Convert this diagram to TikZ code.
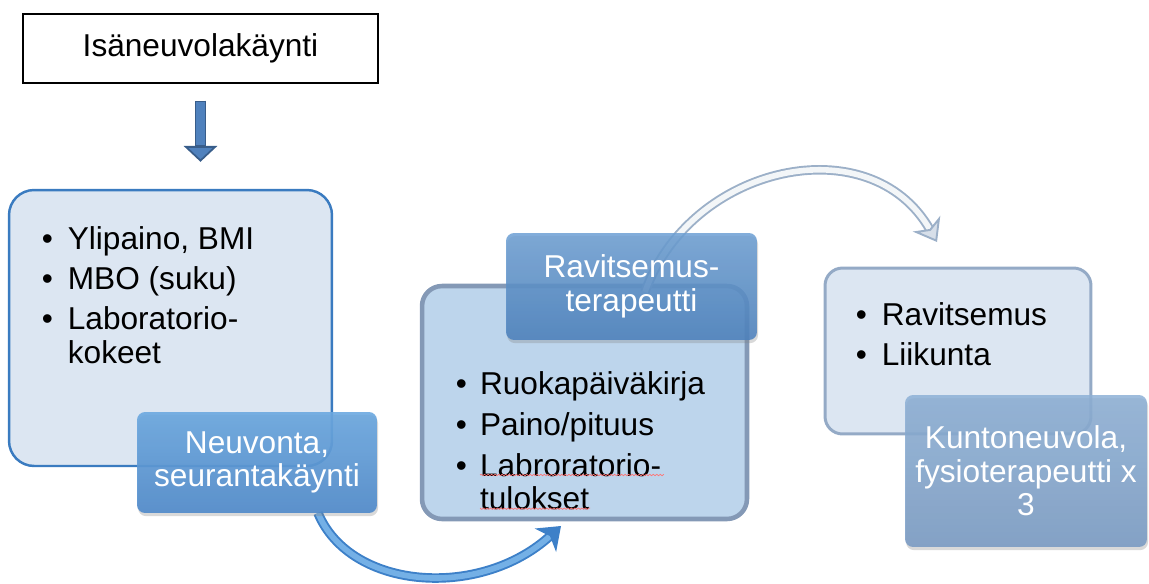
\documentclass[tikz,border=0pt]{standalone}
\usepackage{fontspec}
\setmainfont{Liberation Sans}
\usetikzlibrary{arrows.meta,shadows,decorations.pathmorphing}
\definecolor{paleblue}{HTML}{DCE6F2}
\definecolor{midpale}{HTML}{BDD5EC}
\definecolor{edgeblue}{HTML}{3A7BC0}
\definecolor{edgegray}{HTML}{8499B6}
\definecolor{edgelight}{HTML}{94AAC6}
\definecolor{arrowblue}{HTML}{4F81BD}
\definecolor{arrowdark}{HTML}{385D8A}
\definecolor{badgetop}{HTML}{6BA8E0}
\definecolor{badgebot}{HTML}{4E89CA}
\definecolor{dietop}{HTML}{6C9FD3}
\definecolor{diebot}{HTML}{4A80BD}
\definecolor{fittop}{HTML}{8DB0D6}
\definecolor{fitbot}{HTML}{7598C2}
\definecolor{arcblue}{HTML}{3D80C8}
\definecolor{arclight}{HTML}{74B0E6}
\definecolor{arcsilver}{HTML}{9CB0C8}

\begin{document}
\begin{tikzpicture}[x=0.02cm,y=0.02cm,font=\fontsize{18}{19}\selectfont,
  plain/.style={draw=black,line width=0.8pt,fill=white,minimum width=7.1cm,minimum height=1.38cm},
  card/.style={rounded corners=#1,inner sep=0pt},
  badge/.style={rounded corners=0.16cm,text=white,align=center,inner sep=2pt,
    drop shadow={shadow xshift=0.6pt,shadow yshift=-1.8pt,opacity=0.3}},
  bullets/.style={anchor=base west,inner sep=0pt,align=left},
  bluearc/.style={draw=arcblue,double=arclight,double distance=3.2pt,line width=1.1pt,
    -{Stealth[length=12pt,width=18pt,inset=3.5pt,fill=arcblue]}},
  silverarc/.style={draw=arcsilver,double=white!88!arcsilver,double distance=3.2pt,line width=1.1pt,
    -{Stealth[length=12pt,width=18pt,inset=3.5pt,fill=white!60!arcsilver]}}]

\useasboundingbox (0,0) rectangle (1149,583);

\node[plain](visit) at (200.5,534.5){Isäneuvolakäynti};

% first step
\node[card=0.5cm,draw=edgeblue,line width=1.4pt,fill=paleblue,minimum width=6.46cm,minimum height=5.52cm](check) at (170.5,255){};
\node[bullets](checklist) at (41.5,334){\begin{tabular}[t]{@{}l@{\hspace{8.5pt}}l@{}}
  \textbullet & Ylipaino, BMI\\[4pt]
  \textbullet & MBO (suku)\\[4pt]
  \textbullet & Laboratorio-\\
              & kokeet
\end{tabular}};

\draw[draw=arrowdark,line width=6.8pt,shorten <=0.34cm,shorten >=0.54cm,
  -{Triangle[length=9pt,width=19pt,fill=arrowblue,line width=1pt]}](visit.south) -- (visit.south |- check.north);
\draw[draw=arrowblue,line width=4.6pt,shorten <=0.36cm,shorten >=0.88cm](visit.south) -- (visit.south |- check.north);

\draw[bluearc]([xshift=1.22cm]257,70) .. controls +(0.64cm,-1.54cm) and +(-1.62cm,-1.48cm) .. (561,57);

\node[badge,top color=badgetop,bottom color=badgebot,fill opacity=0.9,text opacity=1,
  minimum width=4.8cm,minimum height=2.02cm](advice) at (257,120.5){Neuvonta,\\seurantakäynti};

% second step
\node[card=0.4cm,draw=edgegray,line width=2.6pt,fill=midpale,minimum width=6.5cm,minimum height=4.66cm](food) at (584.5,180.5){};
\node[bullets](foodlist) at (455.5,189){\begin{tabular}[t]{@{}l@{\hspace{7.5pt}}l@{}}
  \textbullet & Ruokapäiväkirja\\[4.5pt]
  \textbullet & Paino/pituus\\[4.5pt]
  \textbullet & Labroratorio-\\
              & tulokset
\end{tabular}};
\draw[red!55!white,line width=0.4pt,decorate,decoration={snake,amplitude=0.4pt,segment length=2pt}]
  (480,108) -- (663,108) (480,75) -- (590,75);

\draw[silverarc](645,291) .. controls +(0.9cm,2.54cm) and +(-1.34cm,2.34cm) .. (937,341);

\node[badge,top color=dietop,bottom color=diebot,fill opacity=0.85,text opacity=1,
  minimum width=5.02cm,minimum height=2.14cm](dietitian) at (631.5,296.5){Ravitsemus-\\terapeutti};

% third step
\node[card=0.35cm,draw=edgelight,line width=1.7pt,fill=paleblue,minimum width=5.32cm,minimum height=3.32cm](habits) at (958,232){};
\node[bullets](habitlist) at (855.5,258){\begin{tabular}[t]{@{}l@{\hspace{8.5pt}}l@{}}
  \textbullet & Ravitsemus\\[4pt]
  \textbullet & Liikunta
\end{tabular}};

\node[badge,top color=fittop,bottom color=fitbot,fill opacity=0.85,text opacity=1,
  minimum width=4.84cm,minimum height=3.04cm](fitness) at (1026,112){Kuntoneuvola,\\fysioterapeutti x\\3};

\end{tikzpicture}
\end{document}
